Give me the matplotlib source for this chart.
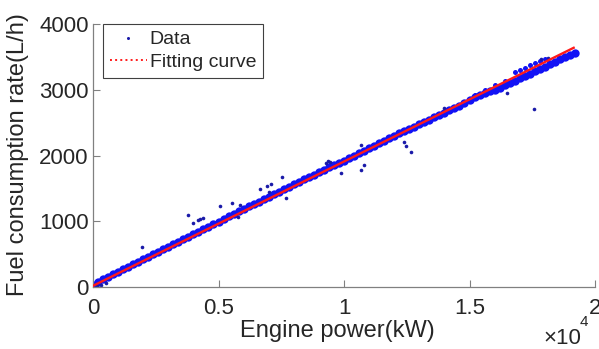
import numpy as np
import matplotlib
matplotlib.use("Agg")
import matplotlib.pyplot as plt
from matplotlib.lines import Line2D

plt.rcParams["font.family"] = ["Liberation Sans", "DejaVu Sans"]

# ── data (engine power kW, fuel rate L/h) ──
band_x = list(range(0, 19201, 200))
band_y = [30, 70, 115, 158, 196, 234, 272, 310, 347, 385,
          423, 461, 499, 536, 574, 612, 650, 688, 725, 763,
          801, 839, 877, 914, 955, 995, 1035, 1073, 1110, 1150,
          1188, 1225, 1263, 1300, 1338, 1376, 1414, 1452, 1490, 1528,
          1565, 1603, 1640, 1668, 1705, 1742, 1780, 1818, 1852, 1885,
          1922, 1958, 1996, 2033, 2071, 2109, 2147, 2185, 2222, 2260,
          2298, 2336, 2370, 2405, 2440, 2475, 2510, 2545, 2578, 2612,
          2648, 2685, 2722, 2760, 2800, 2845, 2885, 2925, 2950, 2975,
          3000, 3030, 3065, 3100, 3140, 3175, 3210, 3245, 3280, 3315,
          3350, 3385, 3425, 3465, 3500, 3535, 3562]

streak_x = [15200, 15600, 16000, 16400, 16800, 17000, 17200, 17400, 17600, 17800, 18000]
streak_y = [2925, 2995, 3070, 3140, 3270, 3300, 3335, 3375, 3410, 3440, 3470]

outlier_x = [150, 300, 500, 1950, 3790, 3980, 4180, 4260, 4390, 5060, 5540, 5780,
             5860, 6650, 6930, 7090, 7530, 7010, 7690, 9300, 9380, 9450, 9880,
             10680, 10780, 10680, 12390, 12470, 12670, 14000, 16490, 17570,
             17850, 18130]
outlier_y = [10, 25, 60, 608, 1095, 973, 1019, 1034, 1049, 1232, 1278, 1065,
             1250, 1490, 1530, 1567, 1673, 1445, 1354, 1885, 1910, 1895, 1734,
             1780, 1855, 2160, 2200, 2150, 2053, 2722, 2958, 2707,
             3468, 3483]

fit_x = [0, 19150]
fit_y = [18, 3638]

TXT = "#262626"
AX = "#808080"

fig = plt.figure(figsize=(5.99, 3.49), dpi=100)
ax = fig.add_axes([93/599, 62/349, 502/599, 263/349])

ax.plot(band_x, band_y, "o", color="#1212f5", ms=6.0, mew=0, zorder=2)
ax.plot(streak_x, streak_y, "o", color="#1212f5", ms=3.6, mew=0, zorder=2)
ax.plot(outlier_x, outlier_y, "o", color="#1a1aa8", ms=2.6, mew=0, zorder=2)
ax.plot(fit_x, fit_y, "-", color="#ff1a1a", lw=1.7, zorder=3)

ax.set_xlim(0, 20000)
ax.set_ylim(0, 4000)
ax.set_xticks([0, 5000, 10000, 15000, 20000])
ax.set_xticklabels(["0", "0.5", "1", "1.5", "2"])
ax.set_yticks([0, 1000, 2000, 3000, 4000])
ax.set_yticklabels(["0", "1000", "2000", "3000", "4000"])
ax.tick_params(direction="in", length=5, width=0.8, color=AX,
               labelsize=16, labelcolor=TXT)
ax.tick_params(axis="x", pad=8)
ax.tick_params(axis="y", pad=3)
for s in ("top", "right"):
    ax.spines[s].set_visible(False)
for s in ("left", "bottom"):
    ax.spines[s].set_color(AX)
    ax.spines[s].set_linewidth(0.9)

fig.text(337/599, 1 - 331/349, "Engine power(kW)", ha="center", va="center",
         fontsize=17, color=TXT)
fig.text(18/599, 1 - 155/349, "Fuel consumption rate(L/h)", ha="center",
         va="center", rotation=90, fontsize=17, color=TXT)
fig.text(543/599, 1 - 338/349, "\u00d710", ha="left", va="center",
         fontsize=16, color=TXT)
fig.text(580/599, 1 - 322/349, "4", ha="left", va="center",
         fontsize=11, color=TXT)

handles = [
    Line2D([0], [0], ls="none", marker="o", ms=2.2, mew=0, color="#1a1aa8",
           label="Data"),
    Line2D([0], [0], ls=":", lw=1.4, color="#ff1a1a", label="Fitting curve"),
]
leg = ax.legend(handles=handles, loc="upper left",
                bbox_to_anchor=(103/599, 1 - 24/349),
                bbox_transform=fig.transFigure, borderaxespad=0,
                fontsize=14, frameon=True, fancybox=False, framealpha=1,
                handlelength=1.9, handletextpad=0.15, labelspacing=0.25,
                borderpad=0.35)
leg.get_frame().set_edgecolor("#404040")
leg.get_frame().set_linewidth(0.8)
for t in leg.get_texts():
    t.set_color(TXT)

fig.savefig("out.png", dpi=100)
